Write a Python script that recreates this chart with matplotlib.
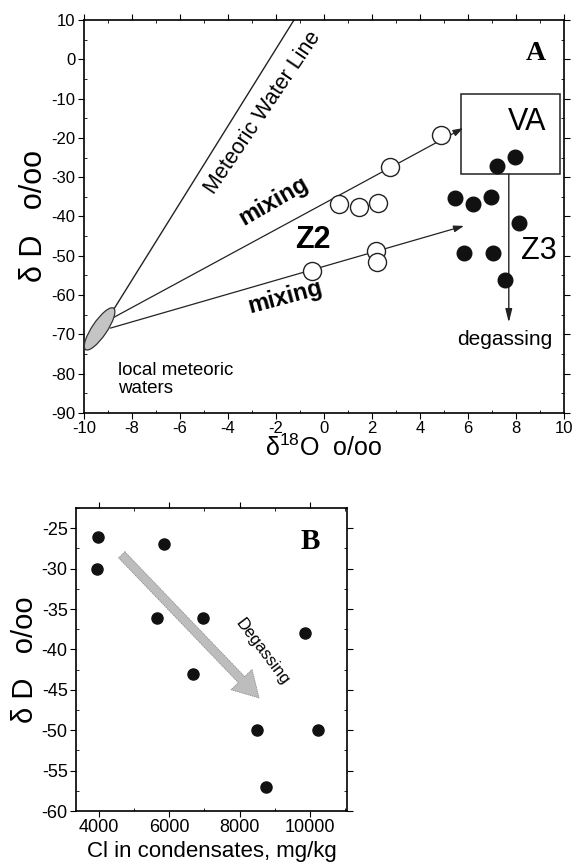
import matplotlib
matplotlib.use("Agg")
import matplotlib.pyplot as plt
import matplotlib.transforms as mtransforms
from matplotlib.patches import Ellipse, Rectangle
from matplotlib.ticker import MultipleLocator

plt.rcParams["font.family"] = ["Liberation Sans", "DejaVu Sans"]
plt.rcParams["axes.unicode_minus"] = False
plt.rcParams["mathtext.fontset"] = "custom"
plt.rcParams["mathtext.rm"] = "Liberation Sans"

# ---- panel A data ----
z2_o18 = [4.88, 2.75, 0.63, 1.46, 2.25, 2.17, 2.2, -0.5]
z2_dD = [-19.3, -27.4, -36.8, -37.6, -36.6, -48.8, -51.6, -53.9]
z3_o18 = [7.96, 7.2, 5.46, 6.2, 6.96, 8.13, 5.83, 7.04, 7.54]
z3_dD = [-24.9, -27.1, -35.3, -36.8, -35.0, -41.7, -49.3, -49.3, -56.2]

mwl_o18 = [-8.8, -1.25]
mwl_dD = [-64.0, 10.0]
mix_upper = [(-8.8, -65.8), (5.8, -17.5)]
mix_lower = [(-8.9, -68.4), (5.83, -42.4)]
local_center = (-9.35, -68.6)
va_box = (5.7, -29.2, 9.85, -8.9)  # x0, y0, x1, y1
degas_x = 7.7
degas_y = (-29.2, -67.0)

# ---- panel B data ----
cl = [3970, 3960, 5840, 5650, 6970, 6680, 9860, 8490, 10220, 8760]
dD_b = [-26.1, -30.0, -27.0, -36.1, -36.1, -43.0, -38.0, -50.0, -50.0, -57.0]
degas_arrow = [(4650, -28.3), (8550, -46.0)]

W, H = 575, 865
fig = plt.figure(figsize=(W / 100, H / 100), dpi=100)
fig.patch.set_facecolor("white")


def px_axes(l, t, r, b):
    return fig.add_axes([l / W, 1 - b / H, (r - l) / W, (b - t) / H])


def style_ticks(ax, size):
    ax.tick_params(which="major", direction="out", length=4, width=0.8,
                   labelsize=size, pad=2)
    ax.tick_params(which="minor", direction="in", length=2.5, width=0.6)
    ax.tick_params(which="both", top=True, right=True)
    for sp in ax.spines.values():
        sp.set_linewidth(1.2)


# ================= Panel A =================
ax = px_axes(84, 20, 564, 413)
ax.set_xlim(-10, 10)
ax.set_ylim(-90, 10)
ax.xaxis.set_major_locator(MultipleLocator(2))
ax.xaxis.set_minor_locator(MultipleLocator(1))
ax.yaxis.set_major_locator(MultipleLocator(10))
ax.yaxis.set_minor_locator(MultipleLocator(5))
style_ticks(ax, 12)

ax.plot(mwl_o18, mwl_dD, color="#222", lw=1.0)
for (x0, y0), (x1, y1) in (mix_upper, mix_lower):
    ax.annotate("", xy=(x1, y1), xytext=(x0, y0),
                arrowprops=dict(arrowstyle="-|>,head_length=0.6,head_width=0.2",
                                color="#222", lw=0.9, shrinkA=0, shrinkB=0))

trans = fig.dpi_scale_trans + mtransforms.ScaledTranslation(
    local_center[0], local_center[1], ax.transData)
ax.add_patch(Ellipse((0, 0), 0.5, 0.15, angle=56, transform=trans,
                     facecolor="#c4c4c4", edgecolor="#333", lw=0.9, zorder=3))

x0, y0, x1, y1 = va_box
ax.add_patch(Rectangle((x0, y0), x1 - x0, y1 - y0, fill=False,
                       edgecolor="#222", lw=1.1, zorder=2))
ax.annotate("", xy=(degas_x, degas_y[1]), xytext=(degas_x, degas_y[0]),
            arrowprops=dict(arrowstyle="-|>,head_length=0.8,head_width=0.2",
                            color="#222", lw=1.0, shrinkA=0, shrinkB=0))

ax.plot(z2_o18, z2_dD, "o", ms=13, mfc="white", mec="#222", mew=1.0,
        linestyle="none", zorder=4)
ax.plot(z3_o18, z3_dD, "o", ms=10.5, mfc="#111", mec="#111",
        linestyle="none", zorder=4)

ax.text(-2.55, -13.5, "Meteoric Water Line", rotation=56, fontsize=15.5,
        ha="center", va="center", rotation_mode="anchor")
ax.text(-2.1, -36.0, "mixing", rotation=30, fontsize=17, fontweight="bold",
        ha="center", va="center", rotation_mode="anchor")
ax.text(-1.6, -60.5, "mixing", rotation=15, fontsize=17, fontweight="bold",
        ha="center", va="center", rotation_mode="anchor")
ax.text(-0.46, -46.0, "Z2", fontsize=22, fontweight="bold",
        ha="center", va="center")
ax.text(8.96, -48.8, "Z3", fontsize=22, ha="center", va="center")
ax.text(8.46, -16.0, "VA", fontsize=22, ha="center", va="center")
ax.text(7.54, -71.4, "degassing", fontsize=15, ha="center", va="center")
ax.text(-8.58, -77.0, "local meteoric\nwaters", fontsize=13.5,
        ha="left", va="top", linespacing=1.05)
ax.text(8.83, 1.35, "A", fontsize=20, fontweight="bold",
        family="Liberation Serif", ha="center", va="center")

ax.set_xlabel("δ$^{18}$O  o/oo", fontsize=18, labelpad=-1)
ax.set_ylabel("δ D   o/oo", fontsize=22, labelpad=2)

# ================= Panel B =================
bx = px_axes(76, 508, 347, 811)
bx.set_xlim(3350, 11050)
bx.set_ylim(-60, -22.5)
bx.xaxis.set_major_locator(MultipleLocator(2000))
bx.xaxis.set_minor_locator(MultipleLocator(1000))
bx.yaxis.set_major_locator(MultipleLocator(5))
bx.yaxis.set_minor_locator(MultipleLocator(2.5))
style_ticks(bx, 13)

(ax0, ay0), (ax1, ay1) = degas_arrow
bx.annotate("", xy=(ax1, ay1), xytext=(ax0, ay0),
            arrowprops=dict(arrowstyle="simple,head_length=1.3,head_width=1.5,tail_width=0.45",
                            mutation_scale=14, facecolor="#bdbdbd",
                            edgecolor="#8a8a8a", lw=0.6, linestyle=":",
                            shrinkA=0, shrinkB=0))
bx.plot(cl, dD_b, "o", ms=8, mfc="#111", mec="#111", linestyle="none", zorder=4)

bx.text(8650, -40.3, "Degassing", rotation=-53, fontsize=12,
        ha="center", va="center", rotation_mode="anchor")
bx.text(10020, -26.6, "B", fontsize=21, fontweight="bold",
        family="Liberation Serif", ha="center", va="center")

bx.set_xlabel("Cl in condensates, mg/kg", fontsize=16, labelpad=3)
bx.set_ylabel("δ D   o/oo", fontsize=21, labelpad=2)

fig.savefig("out.png", dpi=100)
